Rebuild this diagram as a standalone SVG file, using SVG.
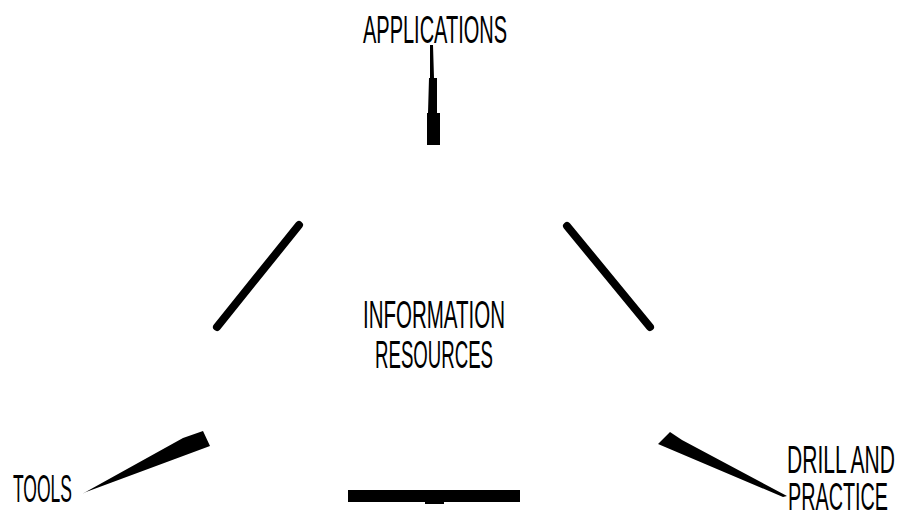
<svg xmlns="http://www.w3.org/2000/svg" width="902" height="517" viewBox="0 0 902 517">
  <style>
    .lbl { font-family: "Liberation Sans", "DejaVu Sans", sans-serif; font-size: 38px; fill: #000; font-weight: normal; }
    .bar { fill: #000; stroke: none; }
    .stroke { stroke: #000; stroke-width: 8; stroke-linecap: round; fill: none; }
  </style>
  <rect width="902" height="517" fill="#fff"/>

  <g id="center">
    <text class="lbl" x="363" y="328" textLength="142" lengthAdjust="spacingAndGlyphs">INFORMATION</text>
    <text class="lbl" x="375" y="368" textLength="118" lengthAdjust="spacingAndGlyphs">RESOURCES</text>
  </g>

  <g id="applications">
    <text class="lbl" x="363" y="43" textLength="144" lengthAdjust="spacingAndGlyphs">APPLICATIONS</text>
  </g>

  <g id="tools">
    <text class="lbl" x="13" y="502" textLength="59" lengthAdjust="spacingAndGlyphs">TOOLS</text>
  </g>

  <g id="drill">
    <text class="lbl" x="787" y="473" textLength="108" lengthAdjust="spacingAndGlyphs">DRILL AND</text>
    <text class="lbl" x="788" y="510" textLength="100" lengthAdjust="spacingAndGlyphs">PRACTICE</text>
  </g>

  <g id="connectors">
    <!-- tapered spikes from the labels -->
    <polygon class="bar" points="430,45 433,45 434,78 437,78 437,113 440,113 440,145 427,145 427,113 428,113 429,78 430,78"/>
    <polygon class="bar" points="82,494 183,438 203,431 210,446 86,492"/>
    <polygon class="bar" points="658,444 670,432 682,440 787,496 783,497"/>
    <!-- triangle sides between the outer nodes -->
    <line class="stroke" x1="217" y1="327" x2="299" y2="225"/>
    <line class="stroke" x1="567" y1="226" x2="650" y2="327"/>
    <rect class="bar" x="348" y="490" width="172" height="12"/>
    <rect class="bar" x="425" y="500" width="19" height="4"/>
  </g>
</svg>
